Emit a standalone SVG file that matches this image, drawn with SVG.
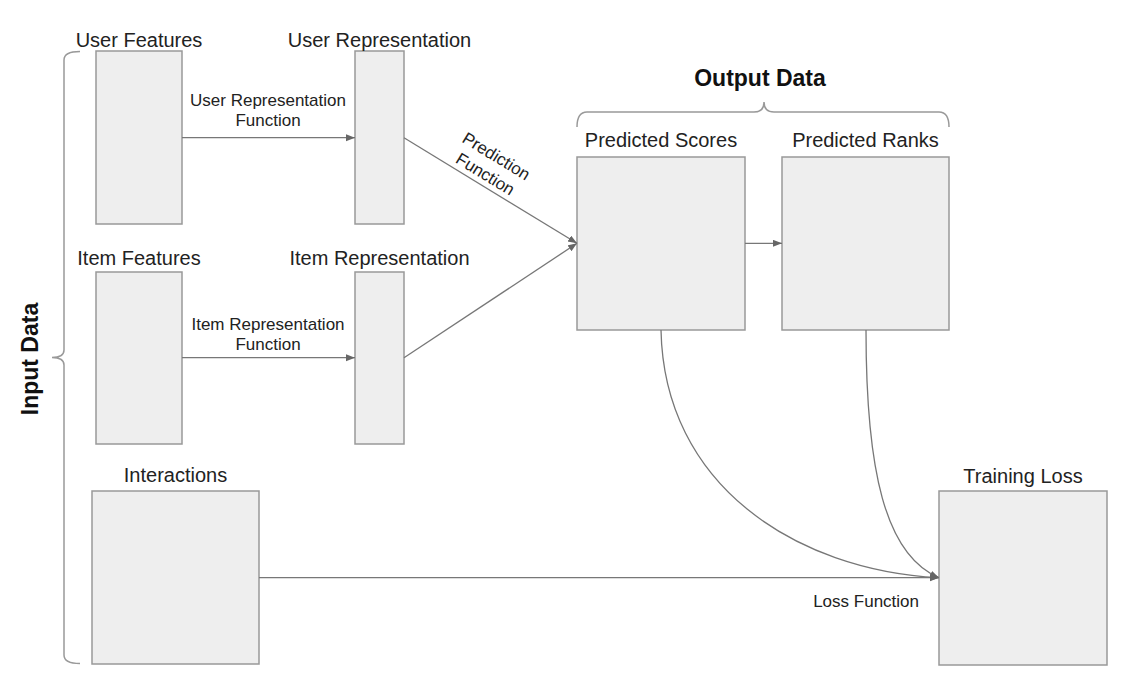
<svg xmlns="http://www.w3.org/2000/svg" width="1130" height="674" viewBox="0 0 1130 674">
<style>
.box{fill:#eeeeee;stroke:#999999;stroke-width:1.5}
.hd{font-family:"Liberation Sans",Arial,sans-serif;font-size:20px;fill:#222;text-anchor:middle}
.lb{font-family:"Liberation Sans",Arial,sans-serif;font-size:17px;fill:#222;text-anchor:middle}
.bold{font-family:"Liberation Sans",Arial,sans-serif;font-size:23px;font-weight:bold;fill:#111;text-anchor:middle}
.ln{fill:none;stroke:#777777;stroke-width:1.3}
.br{fill:none;stroke:#999999;stroke-width:1.5}
</style>
<defs>
<marker id="arr" markerUnits="userSpaceOnUse" markerWidth="10" markerHeight="8" refX="9" refY="3.5" orient="auto">
<path d="M0,0 L9,3.5 L0,7 z" fill="#666666"/>
</marker>
</defs>
<rect width="1130" height="674" fill="#ffffff"/>

<g id="input-brace">
<path class="br" d="M80,51.5 Q64,51.5 64,60 L64,350 Q64,357.5 52,357.5 Q64,357.5 64,365 L64,655 Q64,663.5 80,663.5"/>
<text class="bold" transform="translate(38,359) rotate(-90)">Input Data</text>
</g>

<g id="output-brace">
<path class="br" d="M577,127 Q577,112 587,112 L754,112 Q764,112 764,102 Q764,112 774,112 L939,112 Q949,112 949,127"/>
<text class="bold" x="760" y="86">Output Data</text>
</g>

<g id="user-features">
<rect class="box" x="96" y="51" width="86" height="173"/>
<text class="hd" x="139" y="47">User Features</text>
</g>
<g id="user-representation">
<rect class="box" x="355" y="51" width="49" height="173"/>
<text class="hd" x="379.5" y="47">User Representation</text>
</g>
<g id="item-features">
<rect class="box" x="96" y="272" width="86" height="172"/>
<text class="hd" x="139" y="265">Item Features</text>
</g>
<g id="item-representation">
<rect class="box" x="355" y="272" width="49" height="172"/>
<text class="hd" x="379.5" y="265">Item Representation</text>
</g>
<g id="interactions">
<rect class="box" x="92" y="491" width="167" height="173"/>
<text class="hd" x="175.5" y="482">Interactions</text>
</g>
<g id="predicted-scores">
<rect class="box" x="577" y="157" width="168" height="173"/>
<text class="hd" x="661" y="147">Predicted Scores</text>
</g>
<g id="predicted-ranks">
<rect class="box" x="782" y="157" width="167" height="173"/>
<text class="hd" x="865.5" y="147">Predicted Ranks</text>
</g>
<g id="training-loss">
<rect class="box" x="939" y="491" width="168" height="174"/>
<text class="hd" x="1023" y="483">Training Loss</text>
</g>

<g id="connectors">
<path class="ln" d="M182,137.7 L355,137.7" marker-end="url(#arr)"/>
<text class="lb" x="268" y="106">User Representation</text>
<text class="lb" x="268" y="126">Function</text>
<path class="ln" d="M182,357.7 L355,357.7" marker-end="url(#arr)"/>
<text class="lb" x="268" y="330">Item Representation</text>
<text class="lb" x="268" y="350">Function</text>
<path class="ln" d="M404,137.7 L577,243.3" marker-end="url(#arr)"/>
<g transform="translate(405,137.7) rotate(31.4)">
<text class="lb" x="87.6" y="-26">Prediction</text>
<text class="lb" x="87.6" y="-5">Function</text>
</g>
<path class="ln" d="M404,357.7 L577,243.3" marker-end="url(#arr)"/>
<path class="ln" d="M745,243.3 L782,243.3" marker-end="url(#arr)"/>
<path class="ln" d="M259,577.7 L939,577.7" marker-end="url(#arr)"/>
<text class="lb" x="919" y="607" style="text-anchor:end">Loss Function</text>
<path class="ln" d="M661,330 C664,485 795,570 939,577.7" marker-end="url(#arr)"/>
<path class="ln" d="M866,330 C866,470 885,555 939,577.7" marker-end="url(#arr)"/>
</g>
</svg>
